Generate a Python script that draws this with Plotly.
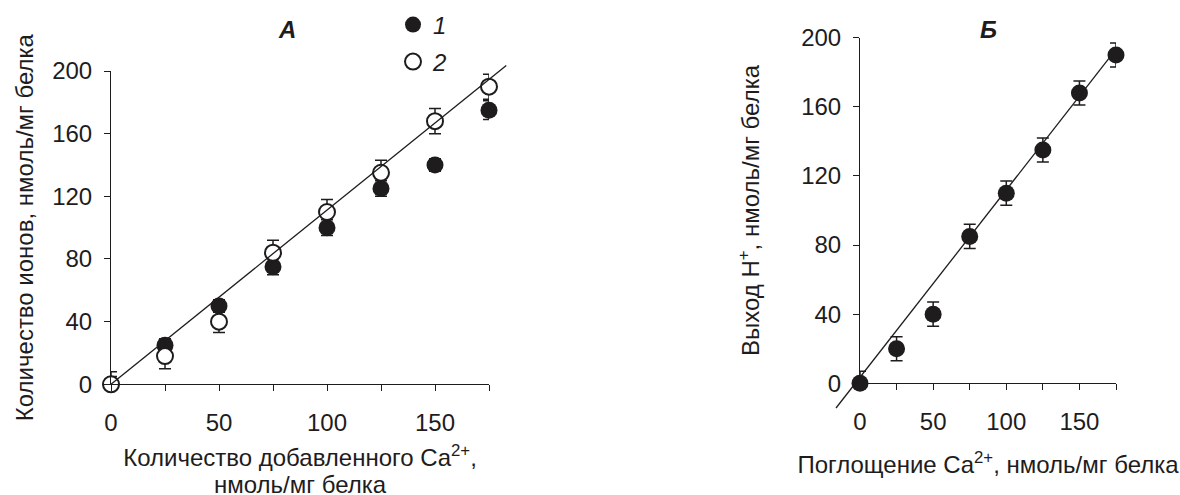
import plotly.graph_objects as go

# ---------------- data ----------------
# Panel A
a_x = [0, 25, 50, 75, 100, 125, 150, 175]
a_s1 = [0, 25, 50, 75, 100, 125, 140, 175]
a_s1_err = [5, 4, 4, 5, 5, 5, 4, 6]
a_s2 = [0, 18, 40, 84, 110, 135, 168, 190]
a_s2_err = [8, 8, 7, 8, 8, 8, 8, 8]
a_fit_x = [0, 183]
a_fit_y = [0, 203.5]

# Panel B
b_x = [0, 25, 50, 75, 100, 125, 150, 175]
b_y = [0, 20, 40, 85, 110, 135, 168, 190]
b_err = [7, 7, 7, 7, 7, 7, 7, 7]
b_fit_x = [-16.4, 171.1]
b_fit_y = [-14.3, 189]

x_tickvals = [0, 50, 100, 150]
x_minor_dtick = 25
y_tickvals = [0, 40, 80, 120, 160, 200]

series_names = ["<i>1</i>", "<i>2</i>"]
panel_labels = ["<b><i>А</i></b>", "<b><i>Б</i></b>"]
a_xtitle_line1 = "Количество добавленного Ca<sup>2+</sup>,"
a_xtitle_line2 = "нмоль/мг белка"
a_ytitle = "Количество ионов, нмоль/мг белка"
b_xtitle = "Поглощение Ca<sup>2+</sup>, нмоль/мг белка"
b_ytitle = "Выход H<sup>+</sup>, нмоль/мг белка"

# ---------------- layout geometry ----------------
W, H = 1180, 495
INK = "#1e1c1d"
FONT = "Arial, 'Liberation Sans', Helvetica, sans-serif"
FS = 24

# visible axes pixel boxes (x0 px, x1 px, y-bottom px, y-top px)
A_box = (111, 489, 384.3, 71)
B_box = (860, 1116, 383.3, 37.7)
A_rng = ([0, 175], [0, 200])
B_rng = ([0, 175], [0, 200])
# overlay (line) areas in px
A_ov = (100, 520, 400, 55)
B_ov = (820, 1140, 420, 30)


def xdom(px0, px1):
    return [px0 / W, px1 / W]


def ydom(pyb, pyt):
    return [(H - pyb) / H, (H - pyt) / H]


def ov_range(box, rng, ov):
    bx0, bx1, byb, byt = box
    (xr0, xr1), (yr0, yr1) = rng
    sx = (xr1 - xr0) / (bx1 - bx0)
    sy = (yr1 - yr0) / (byb - byt)
    ox0, ox1, oyb, oyt = ov
    xr = [xr0 + (ox0 - bx0) * sx, xr0 + (ox1 - bx0) * sx]
    yr = [yr0 + (byb - oyb) * sy, yr0 + (byb - oyt) * sy]
    return xr, yr


A_ovx, A_ovy = ov_range(A_box, A_rng, A_ov)
B_ovx, B_ovy = ov_range(B_box, B_rng, B_ov)

fig = go.Figure()

marker_size = 17
err_common = dict(type="data", visible=True, color=INK, thickness=1.5, width=6)

# Panel A series 1 (filled)
fig.add_trace(go.Scatter(
    x=a_x, y=a_s1, mode="markers", name=series_names[0],
    marker=dict(size=marker_size, color=INK, line=dict(width=0)),
    error_y=dict(array=a_s1_err, **err_common),
    xaxis="x", yaxis="y", cliponaxis=False, legend="legend",
))
# Panel A series 2 (open)
fig.add_trace(go.Scatter(
    x=a_x, y=a_s2, mode="markers", name=series_names[1],
    marker=dict(size=marker_size - 1, color="white", line=dict(width=2, color=INK)),
    error_y=dict(array=a_s2_err, **err_common),
    xaxis="x", yaxis="y", cliponaxis=False, legend="legend2",
))
# Panel B
fig.add_trace(go.Scatter(
    x=b_x, y=b_y, mode="markers", showlegend=False,
    marker=dict(size=marker_size, color=INK, line=dict(width=0)),
    error_y=dict(array=b_err, **err_common),
    xaxis="x2", yaxis="y2", cliponaxis=False,
))
# Fit lines (on overlay axes so that they can run past the axis box)
fig.add_trace(go.Scatter(
    x=a_fit_x, y=a_fit_y, mode="lines", showlegend=False,
    line=dict(color=INK, width=1.3), xaxis="x3", yaxis="y3",
))
fig.add_trace(go.Scatter(
    x=b_fit_x, y=b_fit_y, mode="lines", showlegend=False,
    line=dict(color=INK, width=1.3), xaxis="x4", yaxis="y4",
))

tickfont = dict(family=FONT, size=FS, color=INK)
titlefont = dict(family=FONT, size=FS, color=INK)

common_x = dict(
    showline=True, linecolor=INK, linewidth=1, ticks="outside", ticklen=6,
    tickwidth=1, tickcolor=INK, showgrid=False, zeroline=False,
    tickmode="array", tickvals=x_tickvals, tickfont=tickfont,
    minor=dict(tick0=0, dtick=x_minor_dtick, ticks="outside", ticklen=6,
               tickwidth=1, tickcolor=INK, showgrid=False),
    ticklabelstandoff=11, fixedrange=True, automargin=False,
)
common_y = dict(
    showline=True, linecolor=INK, linewidth=1, ticks="outside", ticklen=6,
    tickwidth=1, tickcolor=INK, showgrid=False, zeroline=False,
    tickmode="array", tickvals=y_tickvals, tickfont=tickfont, ticklabelstandoff=7,
    fixedrange=True, automargin=False,
)

fig.update_layout(
    width=W, height=H,
    margin=dict(l=0, r=0, t=0, b=0, autoexpand=False),
    paper_bgcolor="white", plot_bgcolor="rgba(0,0,0,0)",
    font=dict(family=FONT, color=INK),
    xaxis=dict(domain=xdom(A_box[0], A_box[1]), range=A_rng[0], anchor="y",
               title=dict(text=a_xtitle_line1, font=titlefont, standoff=14), **common_x),
    yaxis=dict(domain=ydom(A_box[2], A_box[3]), range=A_rng[1], anchor="x",
               title=dict(text=a_ytitle, font=titlefont, standoff=11), **common_y),
    xaxis2=dict(domain=xdom(B_box[0], B_box[1]), range=B_rng[0], anchor="y2",
                title=dict(text=b_xtitle, font=titlefont, standoff=22), **common_x),
    yaxis2=dict(domain=ydom(B_box[2], B_box[3]), range=B_rng[1], anchor="x2",
                title=dict(text=b_ytitle, font=titlefont, standoff=34), **common_y),
    xaxis3=dict(domain=xdom(A_ov[0], A_ov[1]), range=A_ovx, anchor="y3", visible=False, fixedrange=True),
    yaxis3=dict(domain=ydom(A_ov[2], A_ov[3]), range=A_ovy, anchor="x3", visible=False, fixedrange=True),
    xaxis4=dict(domain=xdom(B_ov[0], B_ov[1]), range=B_ovx, anchor="y4", visible=False, fixedrange=True),
    yaxis4=dict(domain=ydom(B_ov[2], B_ov[3]), range=B_ovy, anchor="x4", visible=False, fixedrange=True),
    legend=dict(x=(415 - 22) / W, y=(H - 25) / H, xanchor="left", yanchor="middle",
                bgcolor="rgba(0,0,0,0)", borderwidth=0, itemwidth=30,
                font=dict(family=FONT, size=FS, color=INK)),
    legend2=dict(x=(415 - 22) / W, y=(H - 62) / H, xanchor="left", yanchor="middle",
                 bgcolor="rgba(0,0,0,0)", borderwidth=0, itemwidth=30,
                 font=dict(family=FONT, size=FS, color=INK)),
    annotations=[
        dict(text=panel_labels[0], x=287 / W, y=(H - 29) / H, xref="paper", yref="paper",
             showarrow=False, font=dict(family=FONT, size=FS, color=INK),
             xanchor="center", yanchor="middle"),
        dict(text=panel_labels[1], x=988 / W, y=(H - 29) / H, xref="paper", yref="paper",
             showarrow=False, font=dict(family=FONT, size=FS, color=INK),
             xanchor="center", yanchor="middle"),
        # second line of the panel A x-axis title
        dict(text=a_xtitle_line2, x=(A_box[0] + A_box[1]) / 2 / W, y=(H - 484) / H,
             xref="paper", yref="paper", showarrow=False,
             font=dict(family=FONT, size=FS, color=INK),
             xanchor="center", yanchor="middle"),
    ],
)

fig.write_html(
    "out.html",
    config={"displayModeBar": False},
    post_script="document.body.style.margin='0';document.body.style.overflow='hidden';",
)
